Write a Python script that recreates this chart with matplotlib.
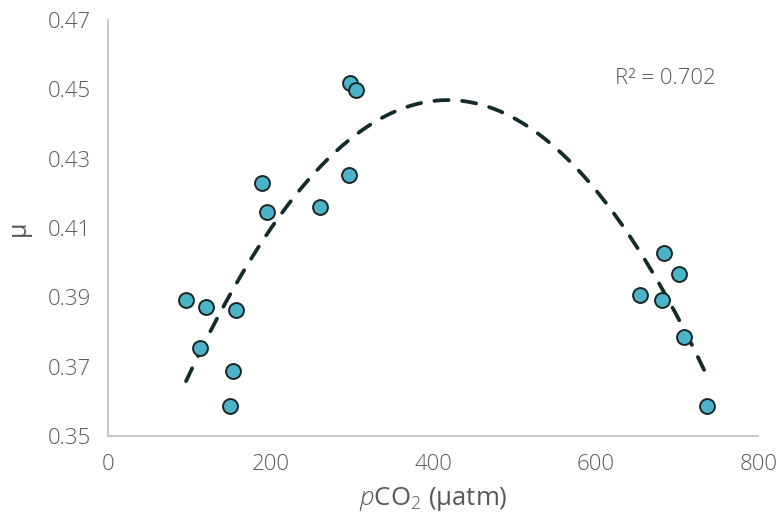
import numpy as np
import matplotlib
matplotlib.use('Agg')
import matplotlib.pyplot as plt

plt.rcParams['font.family'] = ['Open Sans', 'DejaVu Sans']
plt.rcParams['font.weight'] = 'light'
plt.rcParams['mathtext.fontset'] = 'custom'
plt.rcParams['mathtext.rm'] = 'Open Sans:light'
plt.rcParams['mathtext.it'] = 'Open Sans:italic:light'

# pCO2 (uatm) and mu
pco2 = [96, 121, 113, 157, 154, 150, 189, 196, 261, 297, 298, 305,
        654, 684, 703, 682, 709, 737]
mu = [0.3892, 0.3872, 0.3754, 0.3864, 0.3688, 0.3587, 0.4230, 0.4146,
      0.4161, 0.4253, 0.4518, 0.4498, 0.3907, 0.4028, 0.3967, 0.3892,
      0.3786, 0.3587]
r2_label = 'R² = 0.702'

xt = [0, 200, 400, 600, 800]
yt = [0.35, 0.37, 0.39, 0.41, 0.43, 0.45, 0.47]

grey = '#595959'
fig = plt.figure(figsize=(7.8, 5.3), dpi=100)
ax = fig.add_axes([0.1385, 0.1774, 0.8335, 0.785])

# second order trendline
coef = np.polyfit(pco2, mu, 2)
xs = np.linspace(min(pco2), max(pco2), 200)
ax.plot(xs, np.polyval(coef, xs), color='#132b2b', lw=2.7,
        dashes=(3.8, 3.6), dash_capstyle='round', zorder=2)

ax.scatter(pco2, mu, s=115, color='#4bb3c8', edgecolor='#1a2626',
           linewidth=1.4, zorder=3)

ax.text(624, 0.4515, r2_label, fontsize=16, color=grey)

ax.set_xlim(0, 800)
ax.set_ylim(0.35, 0.47)
ax.set_xticks(xt)
ax.set_yticks(yt)
ax.set_yticklabels([f'{v:.2f}' for v in yt])
ax.tick_params(length=0, labelsize=16, labelcolor=grey)
ax.tick_params(axis='y', pad=12)
ax.tick_params(axis='x', pad=13)
for s in ['top', 'right']:
    ax.spines[s].set_visible(False)
for s in ['left', 'bottom']:
    ax.spines[s].set_color('#bfbfbf')
    ax.spines[s].set_linewidth(1.2)

ax.set_xlabel(r'$\mathit{p}$CO$_2$ (µatm)', fontsize=18.5, color=grey, labelpad=7)
ax.set_ylabel('µ', fontsize=18, color=grey, labelpad=12)

fig.savefig('out.png', dpi=100)
